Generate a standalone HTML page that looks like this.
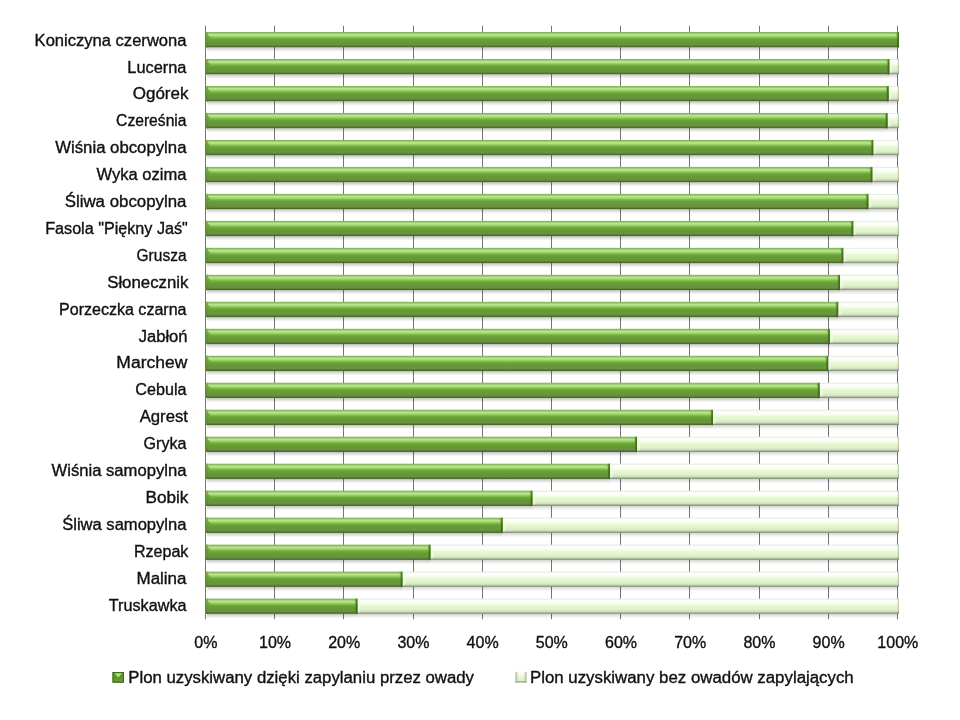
<!DOCTYPE html>
<html><head><meta charset="utf-8"><title>chart</title><style>html,body{margin:0;padding:0;background:#fff;width:960px;height:720px;overflow:hidden}svg{display:block;will-change:transform}text{font-family:"Liberation Sans",sans-serif;fill:#111;stroke:#111;stroke-width:0.35px}</style></head><body>
<svg width="960" height="720" viewBox="0 0 960 720">
<defs>
<linearGradient id="gg" x1="0" y1="0" x2="0" y2="1">
<stop offset="0" stop-color="#88b45e"/>
<stop offset="0.08" stop-color="#90bc66"/>
<stop offset="0.16" stop-color="#b8ea8a"/>
<stop offset="0.22" stop-color="#b0e282"/>
<stop offset="0.3" stop-color="#9ccf6c"/>
<stop offset="0.38" stop-color="#80b84a"/>
<stop offset="0.46" stop-color="#6ca63a"/>
<stop offset="0.55" stop-color="#66a034"/>
<stop offset="0.65" stop-color="#639a30"/>
<stop offset="0.7" stop-color="#68963c"/>
<stop offset="0.76" stop-color="#6a9444"/>
<stop offset="0.86" stop-color="#66903e"/>
<stop offset="0.92" stop-color="#56782e"/>
<stop offset="0.96" stop-color="#4a6a28"/>
<stop offset="1" stop-color="#4c6a2c"/>
</linearGradient>
<linearGradient id="lg" x1="0" y1="0" x2="0" y2="1">
<stop offset="0" stop-color="#e4e6e0"/>
<stop offset="0.06" stop-color="#eef0ea"/>
<stop offset="0.1" stop-color="#fcfefa"/>
<stop offset="0.3" stop-color="#fbfef4"/>
<stop offset="0.4" stop-color="#eefadc"/>
<stop offset="0.5" stop-color="#e4f8ce"/>
<stop offset="0.66" stop-color="#e0f5cc"/>
<stop offset="0.78" stop-color="#d8eac4"/>
<stop offset="0.86" stop-color="#cadabc"/>
<stop offset="0.92" stop-color="#a4b096"/>
<stop offset="0.97" stop-color="#8a9680"/>
<stop offset="1" stop-color="#909a86"/>
</linearGradient>
<linearGradient id="sh" x1="0" y1="0" x2="0" y2="1">
<stop offset="0" stop-color="#2a3a18" stop-opacity="0.3"/>
<stop offset="0.35" stop-color="#2a3020" stop-opacity="0.17"/>
<stop offset="0.7" stop-color="#202028" stop-opacity="0.07"/>
<stop offset="1" stop-color="#202028" stop-opacity="0"/>
</linearGradient>
<linearGradient id="gl" x1="0" y1="0" x2="1" y2="0">
<stop offset="0" stop-color="#3f6a1c" stop-opacity="0.55"/>
<stop offset="1" stop-color="#3f6a1c" stop-opacity="0"/>
</linearGradient>
<linearGradient id="gr" x1="0" y1="0" x2="1" y2="0">
<stop offset="0" stop-color="#3a6618" stop-opacity="0"/>
<stop offset="1" stop-color="#3a6618" stop-opacity="0.8"/>
</linearGradient>
<linearGradient id="lr" x1="0" y1="0" x2="1" y2="0">
<stop offset="0" stop-color="#8a9a80" stop-opacity="0"/>
<stop offset="1" stop-color="#8a9a80" stop-opacity="0.6"/>
</linearGradient>
<linearGradient id="mk1" x1="0" y1="0" x2="0" y2="1">
<stop offset="0" stop-color="#7fb848"/>
<stop offset="1" stop-color="#4e7a28"/>
</linearGradient>
<linearGradient id="mk2" x1="0" y1="0" x2="0" y2="1">
<stop offset="0" stop-color="#fafcf6"/>
<stop offset="0.3" stop-color="#f2fbe8"/>
<stop offset="0.6" stop-color="#e0f5cc"/>
<stop offset="1" stop-color="#d4e8c0"/>
</linearGradient>
<linearGradient id="shl" x1="0" y1="0" x2="0" y2="1">
<stop offset="0" stop-color="#2a3a18" stop-opacity="0.22"/>
<stop offset="0.35" stop-color="#2a3020" stop-opacity="0.12"/>
<stop offset="0.7" stop-color="#202028" stop-opacity="0.05"/>
<stop offset="1" stop-color="#202028" stop-opacity="0"/>
</linearGradient>
<linearGradient id="gL" x1="0" y1="0" x2="0" y2="1">
<stop offset="0" stop-color="#84b454"/>
<stop offset="0.2" stop-color="#78ac46"/>
<stop offset="0.4" stop-color="#66a034"/>
<stop offset="0.8" stop-color="#5e9030"/>
<stop offset="0.93" stop-color="#56802c"/>
<stop offset="1" stop-color="#4a6a2a"/>
</linearGradient>
<linearGradient id="gR" x1="0" y1="0" x2="0" y2="1">
<stop offset="0" stop-color="#5a8a34"/>
<stop offset="0.12" stop-color="#4a7e22"/>
<stop offset="0.5" stop-color="#427418"/>
<stop offset="0.9" stop-color="#406c1a"/>
<stop offset="1" stop-color="#3a5a1c"/>
</linearGradient>
</defs>
<line x1="205.5" y1="25.6" x2="205.5" y2="619.2" stroke="#737378" stroke-width="1"/>
<line x1="274.5" y1="25.6" x2="274.5" y2="619.2" stroke="#737378" stroke-width="1"/>
<line x1="343.5" y1="25.6" x2="343.5" y2="619.2" stroke="#737378" stroke-width="1"/>
<line x1="413.5" y1="25.6" x2="413.5" y2="619.2" stroke="#737378" stroke-width="1"/>
<line x1="482.5" y1="25.6" x2="482.5" y2="619.2" stroke="#737378" stroke-width="1"/>
<line x1="551.5" y1="25.6" x2="551.5" y2="619.2" stroke="#737378" stroke-width="1"/>
<line x1="620.5" y1="25.6" x2="620.5" y2="619.2" stroke="#737378" stroke-width="1"/>
<line x1="689.5" y1="25.6" x2="689.5" y2="619.2" stroke="#737378" stroke-width="1"/>
<line x1="759.5" y1="25.6" x2="759.5" y2="619.2" stroke="#737378" stroke-width="1"/>
<line x1="828.5" y1="25.6" x2="828.5" y2="619.2" stroke="#737378" stroke-width="1"/>
<line x1="897.5" y1="25.6" x2="897.5" y2="619.2" stroke="#737378" stroke-width="1"/>
<rect x="207" y="47.3" width="691" height="4.5" fill="url(#sh)"/>
<rect x="206" y="32" width="693" height="15.3" fill="url(#gg)"/>
<rect x="206" y="32" width="2" height="15.3" fill="url(#gL)"/>
<polygon points="208,34.5 210.5,37 208,39" fill="#4e8424" fill-opacity="0.45"/>
<polygon points="895.5,33.2 897.2,33.2 897.2,46.3 896.7,46.3 896.7,35.5" fill="#4a7e22" fill-opacity="0.4"/>
<rect x="897.2" y="32" width="1.8" height="15.3" fill="url(#gR)"/>
<rect x="207" y="74.28" width="682.4" height="4.5" fill="url(#sh)"/>
<rect x="889.4" y="74.28" width="8.6" height="4.5" fill="url(#shl)"/>
<rect x="889.4" y="58.98" width="9.6" height="15.3" fill="url(#lg)"/>
<polygon points="889.4,59.98 892.4,62.98 892.4,72.28 889.4,73.28 889.4,59.98" fill="#f4fcea" fill-opacity="0.55"/>
<rect x="897" y="58.98" width="2" height="15.3" fill="url(#lr)"/>
<rect x="206" y="58.98" width="683.4" height="15.3" fill="url(#gg)"/>
<rect x="206" y="58.98" width="2" height="15.3" fill="url(#gL)"/>
<polygon points="208,61.48 210.5,63.98 208,65.98" fill="#4e8424" fill-opacity="0.45"/>
<polygon points="885.9,60.18 887.6,60.18 887.6,73.28 887.1,73.28 887.1,62.48" fill="#4a7e22" fill-opacity="0.4"/>
<rect x="887.6" y="58.98" width="1.8" height="15.3" fill="url(#gR)"/>
<rect x="207" y="101.26" width="681.7" height="4.5" fill="url(#sh)"/>
<rect x="888.7" y="101.26" width="9.3" height="4.5" fill="url(#shl)"/>
<rect x="888.7" y="85.96" width="10.3" height="15.3" fill="url(#lg)"/>
<polygon points="888.7,86.96 891.7,89.96 891.7,99.26 888.7,100.26 888.7,86.96" fill="#f4fcea" fill-opacity="0.55"/>
<rect x="897" y="85.96" width="2" height="15.3" fill="url(#lr)"/>
<rect x="206" y="85.96" width="682.7" height="15.3" fill="url(#gg)"/>
<rect x="206" y="85.96" width="2" height="15.3" fill="url(#gL)"/>
<polygon points="208,88.46 210.5,90.96 208,92.96" fill="#4e8424" fill-opacity="0.45"/>
<polygon points="885.2,87.16 886.9,87.16 886.9,100.26 886.4,100.26 886.4,89.46" fill="#4a7e22" fill-opacity="0.4"/>
<rect x="886.9" y="85.96" width="1.8" height="15.3" fill="url(#gR)"/>
<rect x="207" y="128.24" width="680.6" height="4.5" fill="url(#sh)"/>
<rect x="887.6" y="128.24" width="10.4" height="4.5" fill="url(#shl)"/>
<rect x="887.6" y="112.94" width="11.4" height="15.3" fill="url(#lg)"/>
<polygon points="887.6,113.94 890.6,116.94 890.6,126.24 887.6,127.24 887.6,113.94" fill="#f4fcea" fill-opacity="0.55"/>
<rect x="897" y="112.94" width="2" height="15.3" fill="url(#lr)"/>
<rect x="206" y="112.94" width="681.6" height="15.3" fill="url(#gg)"/>
<rect x="206" y="112.94" width="2" height="15.3" fill="url(#gL)"/>
<polygon points="208,115.44 210.5,117.94 208,119.94" fill="#4e8424" fill-opacity="0.45"/>
<polygon points="884.1,114.14 885.8,114.14 885.8,127.24 885.3,127.24 885.3,116.44" fill="#4a7e22" fill-opacity="0.4"/>
<rect x="885.8" y="112.94" width="1.8" height="15.3" fill="url(#gR)"/>
<rect x="207" y="155.22" width="666.3" height="4.5" fill="url(#sh)"/>
<rect x="873.3" y="155.22" width="24.7" height="4.5" fill="url(#shl)"/>
<rect x="873.3" y="139.92" width="25.7" height="15.3" fill="url(#lg)"/>
<polygon points="873.3,140.92 876.3,143.92 876.3,153.22 873.3,154.22 873.3,140.92" fill="#f4fcea" fill-opacity="0.55"/>
<rect x="897" y="139.92" width="2" height="15.3" fill="url(#lr)"/>
<rect x="206" y="139.92" width="667.3" height="15.3" fill="url(#gg)"/>
<rect x="206" y="139.92" width="2" height="15.3" fill="url(#gL)"/>
<polygon points="208,142.42 210.5,144.92 208,146.92" fill="#4e8424" fill-opacity="0.45"/>
<polygon points="869.8,141.12 871.5,141.12 871.5,154.22 871,154.22 871,143.42" fill="#4a7e22" fill-opacity="0.4"/>
<rect x="871.5" y="139.92" width="1.8" height="15.3" fill="url(#gR)"/>
<rect x="207" y="182.2" width="665.4" height="4.5" fill="url(#sh)"/>
<rect x="872.4" y="182.2" width="25.6" height="4.5" fill="url(#shl)"/>
<rect x="872.4" y="166.9" width="26.6" height="15.3" fill="url(#lg)"/>
<polygon points="872.4,167.9 875.4,170.9 875.4,180.2 872.4,181.2 872.4,167.9" fill="#f4fcea" fill-opacity="0.55"/>
<rect x="897" y="166.9" width="2" height="15.3" fill="url(#lr)"/>
<rect x="206" y="166.9" width="666.4" height="15.3" fill="url(#gg)"/>
<rect x="206" y="166.9" width="2" height="15.3" fill="url(#gL)"/>
<polygon points="208,169.4 210.5,171.9 208,173.9" fill="#4e8424" fill-opacity="0.45"/>
<polygon points="868.9,168.1 870.6,168.1 870.6,181.2 870.1,181.2 870.1,170.4" fill="#4a7e22" fill-opacity="0.4"/>
<rect x="870.6" y="166.9" width="1.8" height="15.3" fill="url(#gR)"/>
<rect x="207" y="209.18" width="661.4" height="4.5" fill="url(#sh)"/>
<rect x="868.4" y="209.18" width="29.6" height="4.5" fill="url(#shl)"/>
<rect x="868.4" y="193.88" width="30.6" height="15.3" fill="url(#lg)"/>
<polygon points="868.4,194.88 871.4,197.88 871.4,207.18 868.4,208.18 868.4,194.88" fill="#f4fcea" fill-opacity="0.55"/>
<rect x="897" y="193.88" width="2" height="15.3" fill="url(#lr)"/>
<rect x="206" y="193.88" width="662.4" height="15.3" fill="url(#gg)"/>
<rect x="206" y="193.88" width="2" height="15.3" fill="url(#gL)"/>
<polygon points="208,196.38 210.5,198.88 208,200.88" fill="#4e8424" fill-opacity="0.45"/>
<polygon points="864.9,195.08 866.6,195.08 866.6,208.18 866.1,208.18 866.1,197.38" fill="#4a7e22" fill-opacity="0.4"/>
<rect x="866.6" y="193.88" width="1.8" height="15.3" fill="url(#gR)"/>
<rect x="207" y="236.16" width="646.3" height="4.5" fill="url(#sh)"/>
<rect x="853.3" y="236.16" width="44.7" height="4.5" fill="url(#shl)"/>
<rect x="853.3" y="220.86" width="45.7" height="15.3" fill="url(#lg)"/>
<polygon points="853.3,221.86 856.3,224.86 856.3,234.16 853.3,235.16 853.3,221.86" fill="#f4fcea" fill-opacity="0.55"/>
<rect x="897" y="220.86" width="2" height="15.3" fill="url(#lr)"/>
<rect x="206" y="220.86" width="647.3" height="15.3" fill="url(#gg)"/>
<rect x="206" y="220.86" width="2" height="15.3" fill="url(#gL)"/>
<polygon points="208,223.36 210.5,225.86 208,227.86" fill="#4e8424" fill-opacity="0.45"/>
<polygon points="849.8,222.06 851.5,222.06 851.5,235.16 851,235.16 851,224.36" fill="#4a7e22" fill-opacity="0.4"/>
<rect x="851.5" y="220.86" width="1.8" height="15.3" fill="url(#gR)"/>
<rect x="207" y="263.14" width="636.3" height="4.5" fill="url(#sh)"/>
<rect x="843.3" y="263.14" width="54.7" height="4.5" fill="url(#shl)"/>
<rect x="843.3" y="247.84" width="55.7" height="15.3" fill="url(#lg)"/>
<polygon points="843.3,248.84 846.3,251.84 846.3,261.14 843.3,262.14 843.3,248.84" fill="#f4fcea" fill-opacity="0.55"/>
<rect x="897" y="247.84" width="2" height="15.3" fill="url(#lr)"/>
<rect x="206" y="247.84" width="637.3" height="15.3" fill="url(#gg)"/>
<rect x="206" y="247.84" width="2" height="15.3" fill="url(#gL)"/>
<polygon points="208,250.34 210.5,252.84 208,254.84" fill="#4e8424" fill-opacity="0.45"/>
<polygon points="839.8,249.04 841.5,249.04 841.5,262.14 841,262.14 841,251.34" fill="#4a7e22" fill-opacity="0.4"/>
<rect x="841.5" y="247.84" width="1.8" height="15.3" fill="url(#gR)"/>
<rect x="207" y="290.12" width="633" height="4.5" fill="url(#sh)"/>
<rect x="840" y="290.12" width="58" height="4.5" fill="url(#shl)"/>
<rect x="840" y="274.82" width="59" height="15.3" fill="url(#lg)"/>
<polygon points="840,275.82 843,278.82 843,288.12 840,289.12 840,275.82" fill="#f4fcea" fill-opacity="0.55"/>
<rect x="897" y="274.82" width="2" height="15.3" fill="url(#lr)"/>
<rect x="206" y="274.82" width="634" height="15.3" fill="url(#gg)"/>
<rect x="206" y="274.82" width="2" height="15.3" fill="url(#gL)"/>
<polygon points="208,277.32 210.5,279.82 208,281.82" fill="#4e8424" fill-opacity="0.45"/>
<polygon points="836.5,276.02 838.2,276.02 838.2,289.12 837.7,289.12 837.7,278.32" fill="#4a7e22" fill-opacity="0.4"/>
<rect x="838.2" y="274.82" width="1.8" height="15.3" fill="url(#gR)"/>
<rect x="207" y="317.1" width="631.2" height="4.5" fill="url(#sh)"/>
<rect x="838.2" y="317.1" width="59.8" height="4.5" fill="url(#shl)"/>
<rect x="838.2" y="301.8" width="60.8" height="15.3" fill="url(#lg)"/>
<polygon points="838.2,302.8 841.2,305.8 841.2,315.1 838.2,316.1 838.2,302.8" fill="#f4fcea" fill-opacity="0.55"/>
<rect x="897" y="301.8" width="2" height="15.3" fill="url(#lr)"/>
<rect x="206" y="301.8" width="632.2" height="15.3" fill="url(#gg)"/>
<rect x="206" y="301.8" width="2" height="15.3" fill="url(#gL)"/>
<polygon points="208,304.3 210.5,306.8 208,308.8" fill="#4e8424" fill-opacity="0.45"/>
<polygon points="834.7,303 836.4,303 836.4,316.1 835.9,316.1 835.9,305.3" fill="#4a7e22" fill-opacity="0.4"/>
<rect x="836.4" y="301.8" width="1.8" height="15.3" fill="url(#gR)"/>
<rect x="207" y="344.08" width="622.9" height="4.5" fill="url(#sh)"/>
<rect x="829.9" y="344.08" width="68.1" height="4.5" fill="url(#shl)"/>
<rect x="829.9" y="328.78" width="69.1" height="15.3" fill="url(#lg)"/>
<polygon points="829.9,329.78 832.9,332.78 832.9,342.08 829.9,343.08 829.9,329.78" fill="#f4fcea" fill-opacity="0.55"/>
<rect x="897" y="328.78" width="2" height="15.3" fill="url(#lr)"/>
<rect x="206" y="328.78" width="623.9" height="15.3" fill="url(#gg)"/>
<rect x="206" y="328.78" width="2" height="15.3" fill="url(#gL)"/>
<polygon points="208,331.28 210.5,333.78 208,335.78" fill="#4e8424" fill-opacity="0.45"/>
<polygon points="826.4,329.98 828.1,329.98 828.1,343.08 827.6,343.08 827.6,332.28" fill="#4a7e22" fill-opacity="0.4"/>
<rect x="828.1" y="328.78" width="1.8" height="15.3" fill="url(#gR)"/>
<rect x="207" y="371.06" width="621.2" height="4.5" fill="url(#sh)"/>
<rect x="828.2" y="371.06" width="69.8" height="4.5" fill="url(#shl)"/>
<rect x="828.2" y="355.76" width="70.8" height="15.3" fill="url(#lg)"/>
<polygon points="828.2,356.76 831.2,359.76 831.2,369.06 828.2,370.06 828.2,356.76" fill="#f4fcea" fill-opacity="0.55"/>
<rect x="897" y="355.76" width="2" height="15.3" fill="url(#lr)"/>
<rect x="206" y="355.76" width="622.2" height="15.3" fill="url(#gg)"/>
<rect x="206" y="355.76" width="2" height="15.3" fill="url(#gL)"/>
<polygon points="208,358.26 210.5,360.76 208,362.76" fill="#4e8424" fill-opacity="0.45"/>
<polygon points="824.7,356.96 826.4,356.96 826.4,370.06 825.9,370.06 825.9,359.26" fill="#4a7e22" fill-opacity="0.4"/>
<rect x="826.4" y="355.76" width="1.8" height="15.3" fill="url(#gR)"/>
<rect x="207" y="398.04" width="612.7" height="4.5" fill="url(#sh)"/>
<rect x="819.7" y="398.04" width="78.3" height="4.5" fill="url(#shl)"/>
<rect x="819.7" y="382.74" width="79.3" height="15.3" fill="url(#lg)"/>
<polygon points="819.7,383.74 822.7,386.74 822.7,396.04 819.7,397.04 819.7,383.74" fill="#f4fcea" fill-opacity="0.55"/>
<rect x="897" y="382.74" width="2" height="15.3" fill="url(#lr)"/>
<rect x="206" y="382.74" width="613.7" height="15.3" fill="url(#gg)"/>
<rect x="206" y="382.74" width="2" height="15.3" fill="url(#gL)"/>
<polygon points="208,385.24 210.5,387.74 208,389.74" fill="#4e8424" fill-opacity="0.45"/>
<polygon points="816.2,383.94 817.9,383.94 817.9,397.04 817.4,397.04 817.4,386.24" fill="#4a7e22" fill-opacity="0.4"/>
<rect x="817.9" y="382.74" width="1.8" height="15.3" fill="url(#gR)"/>
<rect x="207" y="425.02" width="506" height="4.5" fill="url(#sh)"/>
<rect x="713" y="425.02" width="185" height="4.5" fill="url(#shl)"/>
<rect x="713" y="409.72" width="186" height="15.3" fill="url(#lg)"/>
<polygon points="713,410.72 716,413.72 716,423.02 713,424.02 713,410.72" fill="#f4fcea" fill-opacity="0.55"/>
<rect x="897" y="409.72" width="2" height="15.3" fill="url(#lr)"/>
<rect x="206" y="409.72" width="507" height="15.3" fill="url(#gg)"/>
<rect x="206" y="409.72" width="2" height="15.3" fill="url(#gL)"/>
<polygon points="208,412.22 210.5,414.72 208,416.72" fill="#4e8424" fill-opacity="0.45"/>
<polygon points="709.5,410.92 711.2,410.92 711.2,424.02 710.7,424.02 710.7,413.22" fill="#4a7e22" fill-opacity="0.4"/>
<rect x="711.2" y="409.72" width="1.8" height="15.3" fill="url(#gR)"/>
<rect x="207" y="452" width="430" height="4.5" fill="url(#sh)"/>
<rect x="637" y="452" width="261" height="4.5" fill="url(#shl)"/>
<rect x="637" y="436.7" width="262" height="15.3" fill="url(#lg)"/>
<polygon points="637,437.7 640,440.7 640,450 637,451 637,437.7" fill="#f4fcea" fill-opacity="0.55"/>
<rect x="897" y="436.7" width="2" height="15.3" fill="url(#lr)"/>
<rect x="206" y="436.7" width="431" height="15.3" fill="url(#gg)"/>
<rect x="206" y="436.7" width="2" height="15.3" fill="url(#gL)"/>
<polygon points="208,439.2 210.5,441.7 208,443.7" fill="#4e8424" fill-opacity="0.45"/>
<polygon points="633.5,437.9 635.2,437.9 635.2,451 634.7,451 634.7,440.2" fill="#4a7e22" fill-opacity="0.4"/>
<rect x="635.2" y="436.7" width="1.8" height="15.3" fill="url(#gR)"/>
<rect x="207" y="478.98" width="403" height="4.5" fill="url(#sh)"/>
<rect x="610" y="478.98" width="288" height="4.5" fill="url(#shl)"/>
<rect x="610" y="463.68" width="289" height="15.3" fill="url(#lg)"/>
<polygon points="610,464.68 613,467.68 613,476.98 610,477.98 610,464.68" fill="#f4fcea" fill-opacity="0.55"/>
<rect x="897" y="463.68" width="2" height="15.3" fill="url(#lr)"/>
<rect x="206" y="463.68" width="404" height="15.3" fill="url(#gg)"/>
<rect x="206" y="463.68" width="2" height="15.3" fill="url(#gL)"/>
<polygon points="208,466.18 210.5,468.68 208,470.68" fill="#4e8424" fill-opacity="0.45"/>
<polygon points="606.5,464.88 608.2,464.88 608.2,477.98 607.7,477.98 607.7,467.18" fill="#4a7e22" fill-opacity="0.4"/>
<rect x="608.2" y="463.68" width="1.8" height="15.3" fill="url(#gR)"/>
<rect x="207" y="505.96" width="325.5" height="4.5" fill="url(#sh)"/>
<rect x="532.5" y="505.96" width="365.5" height="4.5" fill="url(#shl)"/>
<rect x="532.5" y="490.66" width="366.5" height="15.3" fill="url(#lg)"/>
<polygon points="532.5,491.66 535.5,494.66 535.5,503.96 532.5,504.96 532.5,491.66" fill="#f4fcea" fill-opacity="0.55"/>
<rect x="897" y="490.66" width="2" height="15.3" fill="url(#lr)"/>
<rect x="206" y="490.66" width="326.5" height="15.3" fill="url(#gg)"/>
<rect x="206" y="490.66" width="2" height="15.3" fill="url(#gL)"/>
<polygon points="208,493.16 210.5,495.66 208,497.66" fill="#4e8424" fill-opacity="0.45"/>
<polygon points="529,491.86 530.7,491.86 530.7,504.96 530.2,504.96 530.2,494.16" fill="#4a7e22" fill-opacity="0.4"/>
<rect x="530.7" y="490.66" width="1.8" height="15.3" fill="url(#gR)"/>
<rect x="207" y="532.94" width="295.7" height="4.5" fill="url(#sh)"/>
<rect x="502.7" y="532.94" width="395.3" height="4.5" fill="url(#shl)"/>
<rect x="502.7" y="517.64" width="396.3" height="15.3" fill="url(#lg)"/>
<polygon points="502.7,518.64 505.7,521.64 505.7,530.94 502.7,531.94 502.7,518.64" fill="#f4fcea" fill-opacity="0.55"/>
<rect x="897" y="517.64" width="2" height="15.3" fill="url(#lr)"/>
<rect x="206" y="517.64" width="296.7" height="15.3" fill="url(#gg)"/>
<rect x="206" y="517.64" width="2" height="15.3" fill="url(#gL)"/>
<polygon points="208,520.14 210.5,522.64 208,524.64" fill="#4e8424" fill-opacity="0.45"/>
<polygon points="499.2,518.84 500.9,518.84 500.9,531.94 500.4,531.94 500.4,521.14" fill="#4a7e22" fill-opacity="0.4"/>
<rect x="500.9" y="517.64" width="1.8" height="15.3" fill="url(#gR)"/>
<rect x="207" y="559.92" width="223.5" height="4.5" fill="url(#sh)"/>
<rect x="430.5" y="559.92" width="467.5" height="4.5" fill="url(#shl)"/>
<rect x="430.5" y="544.62" width="468.5" height="15.3" fill="url(#lg)"/>
<polygon points="430.5,545.62 433.5,548.62 433.5,557.92 430.5,558.92 430.5,545.62" fill="#f4fcea" fill-opacity="0.55"/>
<rect x="897" y="544.62" width="2" height="15.3" fill="url(#lr)"/>
<rect x="206" y="544.62" width="224.5" height="15.3" fill="url(#gg)"/>
<rect x="206" y="544.62" width="2" height="15.3" fill="url(#gL)"/>
<polygon points="208,547.12 210.5,549.62 208,551.62" fill="#4e8424" fill-opacity="0.45"/>
<polygon points="427,545.82 428.7,545.82 428.7,558.92 428.2,558.92 428.2,548.12" fill="#4a7e22" fill-opacity="0.4"/>
<rect x="428.7" y="544.62" width="1.8" height="15.3" fill="url(#gR)"/>
<rect x="207" y="586.9" width="195.5" height="4.5" fill="url(#sh)"/>
<rect x="402.5" y="586.9" width="495.5" height="4.5" fill="url(#shl)"/>
<rect x="402.5" y="571.6" width="496.5" height="15.3" fill="url(#lg)"/>
<polygon points="402.5,572.6 405.5,575.6 405.5,584.9 402.5,585.9 402.5,572.6" fill="#f4fcea" fill-opacity="0.55"/>
<rect x="897" y="571.6" width="2" height="15.3" fill="url(#lr)"/>
<rect x="206" y="571.6" width="196.5" height="15.3" fill="url(#gg)"/>
<rect x="206" y="571.6" width="2" height="15.3" fill="url(#gL)"/>
<polygon points="208,574.1 210.5,576.6 208,578.6" fill="#4e8424" fill-opacity="0.45"/>
<polygon points="399,572.8 400.7,572.8 400.7,585.9 400.2,585.9 400.2,575.1" fill="#4a7e22" fill-opacity="0.4"/>
<rect x="400.7" y="571.6" width="1.8" height="15.3" fill="url(#gR)"/>
<rect x="207" y="613.88" width="150.5" height="4.5" fill="url(#sh)"/>
<rect x="357.5" y="613.88" width="540.5" height="4.5" fill="url(#shl)"/>
<rect x="357.5" y="598.58" width="541.5" height="15.3" fill="url(#lg)"/>
<polygon points="357.5,599.58 360.5,602.58 360.5,611.88 357.5,612.88 357.5,599.58" fill="#f4fcea" fill-opacity="0.55"/>
<rect x="897" y="598.58" width="2" height="15.3" fill="url(#lr)"/>
<rect x="206" y="598.58" width="151.5" height="15.3" fill="url(#gg)"/>
<rect x="206" y="598.58" width="2" height="15.3" fill="url(#gL)"/>
<polygon points="208,601.08 210.5,603.58 208,605.58" fill="#4e8424" fill-opacity="0.45"/>
<polygon points="354,599.78 355.7,599.78 355.7,612.88 355.2,612.88 355.2,602.08" fill="#4a7e22" fill-opacity="0.4"/>
<rect x="355.7" y="598.58" width="1.8" height="15.3" fill="url(#gR)"/>
<text x="186.48" y="45.6" text-anchor="end" font-size="16" textLength="151.88" lengthAdjust="spacingAndGlyphs">Koniczyna czerwona</text>
<text x="186.49" y="72.5" text-anchor="end" font-size="16" textLength="59.1" lengthAdjust="spacingAndGlyphs">Lucerna</text>
<text x="188.43" y="99.4" text-anchor="end" font-size="16" textLength="55.66" lengthAdjust="spacingAndGlyphs">Ogórek</text>
<text x="186.51" y="126.3" text-anchor="end" font-size="16" textLength="70.43" lengthAdjust="spacingAndGlyphs">Czereśnia</text>
<text x="186.48" y="153.2" text-anchor="end" font-size="16" textLength="131.28" lengthAdjust="spacingAndGlyphs">Wiśnia obcopylna</text>
<text x="186.48" y="180.1" text-anchor="end" font-size="16" textLength="90.08" lengthAdjust="spacingAndGlyphs">Wyka ozima</text>
<text x="186.47" y="207" text-anchor="end" font-size="16" textLength="121.76" lengthAdjust="spacingAndGlyphs">Śliwa obcopylna</text>
<text x="187.81" y="233.9" text-anchor="end" font-size="16" textLength="142.62" lengthAdjust="spacingAndGlyphs">Fasola &quot;Piękny Jaś&quot;</text>
<text x="186.52" y="260.8" text-anchor="end" font-size="16" textLength="49.96" lengthAdjust="spacingAndGlyphs">Grusza</text>
<text x="188.43" y="287.7" text-anchor="end" font-size="16" textLength="81.24" lengthAdjust="spacingAndGlyphs">Słonecznik</text>
<text x="186.5" y="314.6" text-anchor="end" font-size="16" textLength="127.42" lengthAdjust="spacingAndGlyphs">Porzeczka czarna</text>
<text x="187.52" y="341.5" text-anchor="end" font-size="16" textLength="48.8" lengthAdjust="spacingAndGlyphs">Jabłoń</text>
<text x="187.25" y="368.4" text-anchor="end" font-size="16" textLength="70.89" lengthAdjust="spacingAndGlyphs">Marchew</text>
<text x="186.5" y="395.3" text-anchor="end" font-size="16" textLength="51.11" lengthAdjust="spacingAndGlyphs">Cebula</text>
<text x="188.02" y="422.2" text-anchor="end" font-size="16" textLength="48.36" lengthAdjust="spacingAndGlyphs">Agrest</text>
<text x="186.5" y="449.1" text-anchor="end" font-size="16" textLength="42.98" lengthAdjust="spacingAndGlyphs">Gryka</text>
<text x="186.48" y="476" text-anchor="end" font-size="16" textLength="134.92" lengthAdjust="spacingAndGlyphs">Wiśnia samopylna</text>
<text x="188.44" y="502.9" text-anchor="end" font-size="16" textLength="42.98" lengthAdjust="spacingAndGlyphs">Bobik</text>
<text x="186.48" y="529.8" text-anchor="end" font-size="16" textLength="124.31" lengthAdjust="spacingAndGlyphs">Śliwa samopylna</text>
<text x="188.4" y="556.7" text-anchor="end" font-size="16" textLength="54.4" lengthAdjust="spacingAndGlyphs">Rzepak</text>
<text x="186.47" y="583.6" text-anchor="end" font-size="16" textLength="49.95" lengthAdjust="spacingAndGlyphs">Malina</text>
<text x="186.49" y="610.5" text-anchor="end" font-size="16" textLength="77.66" lengthAdjust="spacingAndGlyphs">Truskawka</text>
<text x="205.8" y="647.8" text-anchor="middle" font-size="16">0%</text>
<text x="275" y="647.8" text-anchor="middle" font-size="16">10%</text>
<text x="344.2" y="647.8" text-anchor="middle" font-size="16">20%</text>
<text x="413.4" y="647.8" text-anchor="middle" font-size="16">30%</text>
<text x="482.6" y="647.8" text-anchor="middle" font-size="16">40%</text>
<text x="551.8" y="647.8" text-anchor="middle" font-size="16">50%</text>
<text x="621" y="647.8" text-anchor="middle" font-size="16">60%</text>
<text x="690.2" y="647.8" text-anchor="middle" font-size="16">70%</text>
<text x="759.4" y="647.8" text-anchor="middle" font-size="16">80%</text>
<text x="828.6" y="647.8" text-anchor="middle" font-size="16">90%</text>
<text x="897.8" y="647.8" text-anchor="middle" font-size="16">100%</text>
<rect x="112.5" y="672" width="11.5" height="10.7" fill="#5c942e"/>
<rect x="113" y="672.5" width="10.5" height="9.7" fill="none" stroke="#3f6a1f" stroke-width="1"/>
<polygon points="114.5,673.2 122,673.2 118.3,677.6" fill="#b2ec80" fill-opacity="0.9"/>
<rect x="114" y="679" width="8.5" height="2" fill="#6e9e4a" fill-opacity="0.7"/>
<text x="128.3" y="682.6" font-size="16" textLength="345.7" lengthAdjust="spacingAndGlyphs">Plon uzyskiwany dzięki zapylaniu przez owady</text>
<rect x="515.3" y="671.8" width="11.4" height="10.8" fill="url(#mk2)"/>
<rect x="515.3" y="671.8" width="2" height="10.8" fill="#b8bcb4" fill-opacity="0.8"/>
<rect x="524.7" y="671.8" width="2" height="10.8" fill="#b8bcb4" fill-opacity="0.8"/>
<rect x="515.3" y="681" width="11.4" height="1.6" fill="#9aac8c" fill-opacity="0.8"/>
<text x="529.95" y="682.6" font-size="16" textLength="323.8" lengthAdjust="spacingAndGlyphs">Plon uzyskiwany bez owadów zapylających</text>
</svg></body></html>
